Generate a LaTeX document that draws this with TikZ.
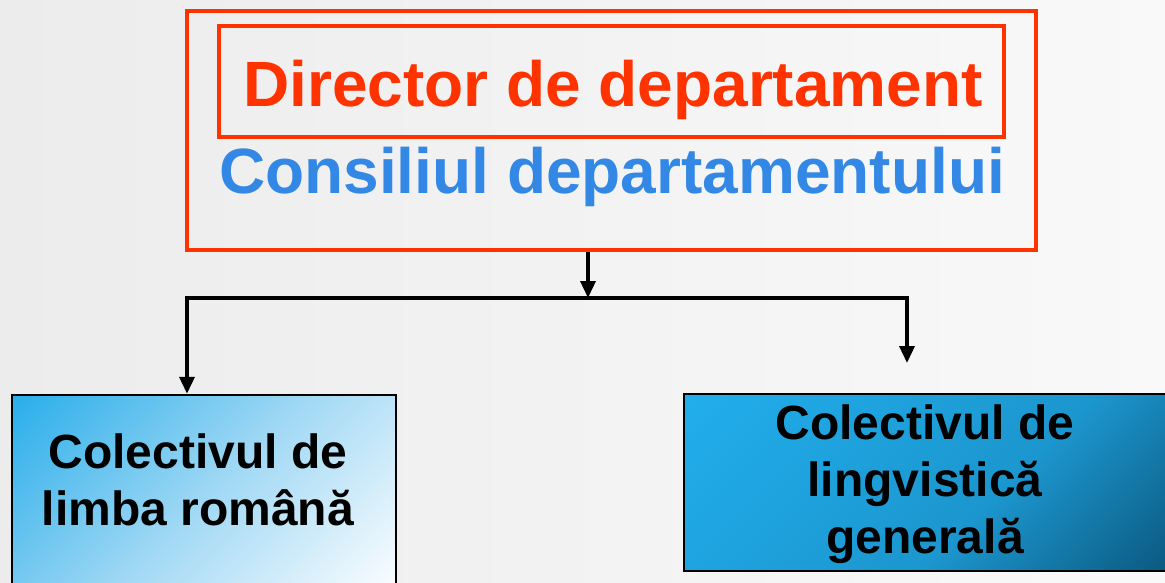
\documentclass[tikz,border=0pt]{standalone}
\usepackage{fontspec}
\setmainfont{Liberation Sans}
\usetikzlibrary{arrows.meta}
\definecolor{orgred}{RGB}{255,51,0}
\definecolor{orgblue}{RGB}{51,136,230}
\definecolor{bgA}{RGB}{236,236,236}
\definecolor{bgB}{RGB}{249,249,249}
\definecolor{lblueA}{RGB}{42,174,234}
\definecolor{lblueM}{RGB}{160,216,244}
\definecolor{dblueA}{RGB}{33,174,236}
\definecolor{dblueM}{RGB}{28,150,206}
\definecolor{dblueB}{RGB}{10,86,124}
\pgfdeclareverticalshading{lunitshade}{100bp}{color(0bp)=(white); color(15bp)=(white); color(50bp)=(lblueM); color(85bp)=(lblueA); color(100bp)=(lblueA)}
\pgfdeclareverticalshading{runitshade}{100bp}{color(0bp)=(dblueB); color(15bp)=(dblueB); color(42bp)=(dblueM); color(85bp)=(dblueA); color(100bp)=(dblueA)}
\tikzset{
  redbox/.style={draw=orgred, line width=4pt, rectangle, inner sep=0pt},
  unitbox/.style={draw=black, line width=2.5pt, rectangle, inner sep=0pt},
  conn/.style={draw=black, line width=3.5pt, -{Triangle[width=15pt,length=17pt]}},
  bar/.style={draw=black, line width=4pt, line cap=rect},
  bigtxt/.style={font=\fontsize{64}{70}\selectfont\bfseries, inner sep=0pt, anchor=base},
  unittxt/.style={font=\fontsize{48}{57}\selectfont\bfseries, inner sep=0pt, align=center, anchor=base}
}
\begin{document}
\begin{tikzpicture}[x=1pt,y=-1pt]
\useasboundingbox (0,0) rectangle (1165,582);
\shade[left color=bgA, right color=bgB] (0,0) rectangle (1165,582);
% top boxes
\node[redbox, minimum width=849pt, minimum height=239pt] (outer) at (611.5,130.5) {};
\node[redbox, minimum width=785pt, minimum height=111pt] (inner) at (611.5,81.5) {};
\node[bigtxt, text=orgred] (dir) at (613,106) {Director de departament};
\node[bigtxt, text=orgblue] (cons) at (612,193) {Consiliul departamentului};
% unit boxes
\node[unitbox, minimum width=384pt, minimum height=210pt, shading=lunitshade, shading angle=45] (lbox) at (204,500) {};
\node[unitbox, minimum width=500pt, minimum height=177pt, shading=runitshade, shading angle=45] (rbox) at (934,482.5) {};
\node[unittxt] (ltxt) at (198,525) {Colectivul de\\limba română};
\node[unittxt] (rtxt) at (925,553) {Colectivul de\\lingvistică\\generală};
% connectors
\coordinate (j) at (588,298);
\coordinate (jl) at (187,298);
\coordinate (jr) at (907,298);
\coordinate (rend) at (907,363);
\draw[conn] (outer.south -| j) -- (j);
\draw[bar] (jl) -- (jr);
\draw[conn] (jl) -- (jl |- lbox.north);
\draw[conn] (jr) -- (rend);
\end{tikzpicture}
\end{document}
